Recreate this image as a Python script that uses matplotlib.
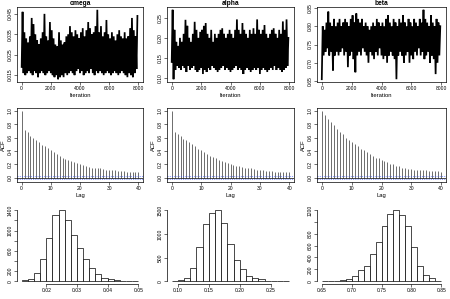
import matplotlib
matplotlib.use("Agg")
import matplotlib.pyplot as plt
import numpy as np

plt.rcParams['font.family'] = ['Liberation Sans', 'DejaVu Sans']

params = ["omega", "alpha", "beta"]

# ---- trace plots: per-block (125 iterations) low / high envelope ----
omega_high = [0.046, 0.036, 0.033, 0.031, 0.034, 0.043, 0.040, 0.035, 0.032, 0.030, 0.033, 0.036,
              0.045, 0.034, 0.032, 0.041, 0.037, 0.033, 0.030, 0.029, 0.036, 0.032, 0.030, 0.031,
              0.034, 0.035, 0.039, 0.036, 0.034, 0.037, 0.035, 0.033, 0.036, 0.038, 0.034, 0.037,
              0.041, 0.038, 0.035, 0.036, 0.039, 0.047, 0.036, 0.039, 0.034, 0.036, 0.042, 0.035,
              0.033, 0.036, 0.034, 0.032, 0.035, 0.037, 0.034, 0.033, 0.036, 0.033, 0.034, 0.038,
              0.043, 0.037, 0.034, 0.044]
omega_low = [0.019, 0.016, 0.015, 0.016, 0.017, 0.016, 0.015, 0.017, 0.016, 0.014, 0.016, 0.017,
             0.016, 0.015, 0.016, 0.017, 0.016, 0.015, 0.014, 0.015, 0.013, 0.014, 0.015, 0.014,
             0.016, 0.015, 0.016, 0.017, 0.016, 0.015, 0.017, 0.018, 0.016, 0.017, 0.015, 0.016,
             0.017, 0.016, 0.018, 0.016, 0.015, 0.017, 0.016, 0.017, 0.016, 0.015, 0.016, 0.017,
             0.016, 0.015, 0.016, 0.017, 0.016, 0.015, 0.016, 0.017, 0.016, 0.015, 0.014, 0.016,
             0.015, 0.014, 0.016, 0.018]
alpha_high = [0.27, 0.22, 0.19, 0.18, 0.20, 0.19, 0.21, 0.245, 0.23, 0.20, 0.19, 0.21,
              0.24, 0.22, 0.20, 0.215, 0.22, 0.23, 0.237, 0.21, 0.20, 0.22, 0.19, 0.21,
              0.20, 0.21, 0.22, 0.224, 0.21, 0.20, 0.21, 0.22, 0.21, 0.20, 0.22, 0.246,
              0.22, 0.21, 0.237, 0.22, 0.21, 0.20, 0.22, 0.21, 0.224, 0.21, 0.246, 0.22,
              0.21, 0.22, 0.232, 0.21, 0.20, 0.21, 0.22, 0.224, 0.21, 0.20, 0.22, 0.21,
              0.241, 0.22, 0.246, 0.20]
alpha_low = [0.14, 0.097, 0.12, 0.13, 0.125, 0.12, 0.13, 0.125, 0.115, 0.13, 0.12, 0.125,
             0.13, 0.12, 0.115, 0.12, 0.125, 0.11, 0.12, 0.115, 0.125, 0.12, 0.13, 0.125,
             0.12, 0.115, 0.12, 0.125, 0.13, 0.12, 0.125, 0.12, 0.115, 0.12, 0.125, 0.13,
             0.12, 0.125, 0.12, 0.11, 0.12, 0.125, 0.12, 0.115, 0.12, 0.125, 0.12, 0.125,
             0.11, 0.12, 0.125, 0.12, 0.115, 0.12, 0.125, 0.12, 0.13, 0.12, 0.125, 0.12,
             0.115, 0.12, 0.125, 0.13]
beta_high = [0.80, 0.79, 0.81, 0.84, 0.81, 0.80, 0.82, 0.80, 0.81, 0.82, 0.80, 0.81,
             0.82, 0.81, 0.80, 0.82, 0.83, 0.81, 0.835, 0.82, 0.81, 0.82, 0.80, 0.81,
             0.80, 0.79, 0.80, 0.81, 0.80, 0.82, 0.81, 0.80, 0.81, 0.80, 0.82, 0.83,
             0.81, 0.80, 0.82, 0.81, 0.80, 0.82, 0.81, 0.83, 0.81, 0.80, 0.82, 0.81,
             0.80, 0.82, 0.81, 0.80, 0.82, 0.81, 0.845, 0.82, 0.81, 0.80, 0.83, 0.81,
             0.80, 0.82, 0.81, 0.80]
beta_low = [0.655, 0.72, 0.73, 0.74, 0.72, 0.73, 0.679, 0.72, 0.73, 0.72, 0.73, 0.74,
            0.72, 0.73, 0.688, 0.72, 0.73, 0.71, 0.674, 0.72, 0.73, 0.72, 0.74, 0.73,
            0.72, 0.70, 0.73, 0.72, 0.71, 0.73, 0.72, 0.74, 0.72, 0.71, 0.72, 0.70,
            0.72, 0.73, 0.72, 0.71, 0.655, 0.72, 0.73, 0.72, 0.70, 0.72, 0.73, 0.70,
            0.72, 0.71, 0.73, 0.72, 0.74, 0.72, 0.73, 0.71, 0.72, 0.73, 0.70, 0.72,
            0.71, 0.669, 0.70, 0.72]
n_iter = 8000
iter_ticks = [0, 2000, 4000, 6000, 8000]
trace_yticks = {
    "omega": [0.015, 0.025, 0.035, 0.045],
    "alpha": [0.10, 0.15, 0.20, 0.25],
    "beta": [0.65, 0.70, 0.75, 0.80, 0.85],
}

# ---- ACF (lags 0..40) ----
lags = list(range(41))
omega_acf = [1.0, 0.71, 0.68, 0.63, 0.59, 0.56, 0.53, 0.49, 0.47, 0.44, 0.42, 0.39, 0.36, 0.33,
             0.30, 0.28, 0.26, 0.25, 0.23, 0.22, 0.20, 0.19, 0.18, 0.16, 0.15, 0.15, 0.14, 0.14,
             0.13, 0.12, 0.12, 0.11, 0.11, 0.10, 0.10, 0.10, 0.09, 0.09, 0.09, 0.08, 0.08]
alpha_acf = [1.0, 0.685, 0.66, 0.62, 0.58, 0.56, 0.53, 0.51, 0.48, 0.43, 0.41, 0.38, 0.36, 0.33,
             0.31, 0.29, 0.27, 0.25, 0.24, 0.22, 0.20, 0.19, 0.18, 0.17, 0.16, 0.15, 0.15, 0.14,
             0.13, 0.12, 0.11, 0.11, 0.10, 0.10, 0.10, 0.09, 0.09, 0.09, 0.09, 0.09, 0.09]
beta_acf = [1.0, 0.94, 0.88, 0.83, 0.78, 0.73, 0.69, 0.65, 0.60, 0.56, 0.53, 0.50, 0.47, 0.43,
            0.41, 0.38, 0.36, 0.33, 0.30, 0.29, 0.26, 0.25, 0.23, 0.21, 0.20, 0.18, 0.17, 0.15,
            0.14, 0.13, 0.13, 0.12, 0.12, 0.11, 0.11, 0.11, 0.10, 0.10, 0.10, 0.10, 0.09]
acf_ci = 0.022
lag_ticks = [0, 10, 20, 30, 40]
acf_yticks = [0.0, 0.2, 0.4, 0.6, 0.8, 1.0]

# ---- histograms ----
omega_bins = [0.012, 0.014, 0.016, 0.018, 0.020, 0.022, 0.024, 0.026, 0.028, 0.030, 0.032,
              0.034, 0.036, 0.038, 0.040, 0.042, 0.044, 0.046, 0.048, 0.050]
omega_counts = [15, 35, 165, 440, 850, 1300, 1410, 1200, 920, 665, 440, 255, 150, 70, 35, 25,
                10, 5, 3]
alpha_bins = [0.09, 0.10, 0.11, 0.12, 0.13, 0.14, 0.15, 0.16, 0.17, 0.18, 0.19, 0.20, 0.21,
              0.22, 0.23, 0.24, 0.25, 0.26, 0.27, 0.28]
alpha_counts = [7, 15, 75, 285, 715, 1205, 1450, 1510, 1230, 785, 455, 250, 118, 60, 35, 12,
                5, 2, 1]
beta_bins = [0.65, 0.66, 0.67, 0.68, 0.69, 0.70, 0.71, 0.72, 0.73, 0.74, 0.75, 0.76, 0.77,
             0.78, 0.79, 0.80, 0.81, 0.82, 0.83, 0.84, 0.85]
beta_counts = [5, 5, 10, 25, 40, 95, 180, 255, 465, 670, 925, 1140, 1205, 1120, 925, 570, 255,
               105, 45, 10]
hist_xticks = {
    "omega": [0.02, 0.03, 0.04, 0.05],
    "alpha": [0.10, 0.15, 0.20, 0.25],
    "beta": [0.65, 0.70, 0.75, 0.80, 0.85],
}
hist_yticks = {
    "omega": ([0, 200, 400, 600, 800, 1000, 1200, 1400],
              ["0", "200", "", "600", "", "1000", "", "1400"]),
    "alpha": ([0, 500, 1000, 1500], ["0", "500", "1000", "1500"]),
    "beta": ([0, 200, 400, 600, 800, 1000, 1200],
             ["0", "200", "400", "600", "800", "", "1200"]),
}

highs = {"omega": omega_high, "alpha": alpha_high, "beta": beta_high}
lows = {"omega": omega_low, "alpha": alpha_low, "beta": beta_low}
acfs = {"omega": omega_acf, "alpha": alpha_acf, "beta": beta_acf}
bins = {"omega": omega_bins, "alpha": alpha_bins, "beta": beta_bins}
counts = {"omega": omega_counts, "alpha": alpha_counts, "beta": beta_counts}

W, H = 450, 299
fig = plt.figure(figsize=(4.5, 2.99), dpi=100)


def px(l, t, r, b):
    return [l / W, 1 - b / H, (r - l) / W, (b - t) / H]


cols = [(17, 143), (167, 294), (317, 446)]
FS = 3.6


def ext(lo, hi, f=0.04):
    d = (hi - lo) * f
    return lo - d, hi + d


def style(ax):
    ax.tick_params(length=2, width=0.4, labelsize=FS, pad=1)
    for s in ax.spines.values():
        s.set_linewidth(0.5)
    for lab in ax.get_yticklabels():
        lab.set_rotation(90)
        lab.set_va("center")


for j, p in enumerate(params):
    l, r = cols[j]
    # trace
    ax = fig.add_axes(px(l, 7, r, 82))
    hi = np.array(highs[p])
    lo = np.array(lows[p])
    nb = len(hi)
    step = n_iter / nb
    xs = np.empty(2 * nb)
    ys = np.empty(2 * nb)
    xs[0::2] = np.arange(nb) * step
    xs[1::2] = np.arange(nb) * step + step / 2
    ys[0::2] = lo
    ys[1::2] = hi
    ax.plot(xs, ys, color="black", lw=1.25, solid_joinstyle="miter")
    ax.set_xlim(*ext(0, n_iter))
    allv = np.concatenate([hi, lo])
    ax.set_ylim(*ext(allv.min(), allv.max()))
    ax.set_xticks(iter_ticks)
    ax.set_yticks(trace_yticks[p])
    ax.set_yticklabels([f"{v:.3f}" if p == "omega" else f"{v:.2f}" for v in trace_yticks[p]])
    ax.set_title(p, fontsize=4.8, fontweight="bold", pad=1.5)
    ax.set_xlabel("Iteration", fontsize=4.2, labelpad=1)
    style(ax)

    # ACF
    ax = fig.add_axes(px(l, 108, r, 182))
    ax.vlines(lags, 0, acfs[p], color="#555555", lw=0.6)
    ax.axhline(0, color="black", lw=0.5)
    ax.axhline(acf_ci, color="#3355ff", lw=0.4, ls=(0, (2, 2)))
    ax.axhline(-acf_ci, color="#3355ff", lw=0.4, ls=(0, (2, 2)))
    ax.set_xlim(*ext(0, 40))
    ax.set_ylim(*ext(-acf_ci, 1.0))
    ax.set_xticks(lag_ticks)
    ax.set_yticks(acf_yticks)
    ax.set_yticklabels([f"{v:.1f}" for v in acf_yticks])
    ax.set_xlabel("Lag", fontsize=4.2, labelpad=1)
    ax.set_ylabel("ACF", fontsize=4.2, labelpad=1)
    style(ax)

    # histogram
    ax = fig.add_axes(px(l, 207, r, 284))
    b = np.array(bins[p])
    c = np.array(counts[p])
    ax.bar(b[:-1], c, width=np.diff(b), align="edge", facecolor="white",
           edgecolor="black", lw=0.5)
    ax.set_xlim(*ext(b[0], b[-1]))
    ax.set_ylim(*ext(0, c.max()))
    ax.set_xticks(hist_xticks[p])
    ax.set_xticklabels([f"{v:.2f}" for v in hist_xticks[p]])
    yt, yl = hist_yticks[p]
    ax.set_yticks(yt)
    ax.set_yticklabels(yl)
    ax.spines["top"].set_visible(False)
    ax.spines["right"].set_visible(False)
    ax.spines["left"].set_bounds(yt[0], yt[-1])
    ax.spines["bottom"].set_bounds(hist_xticks[p][0], hist_xticks[p][-1])
    style(ax)

fig.savefig("out.png", dpi=100)
